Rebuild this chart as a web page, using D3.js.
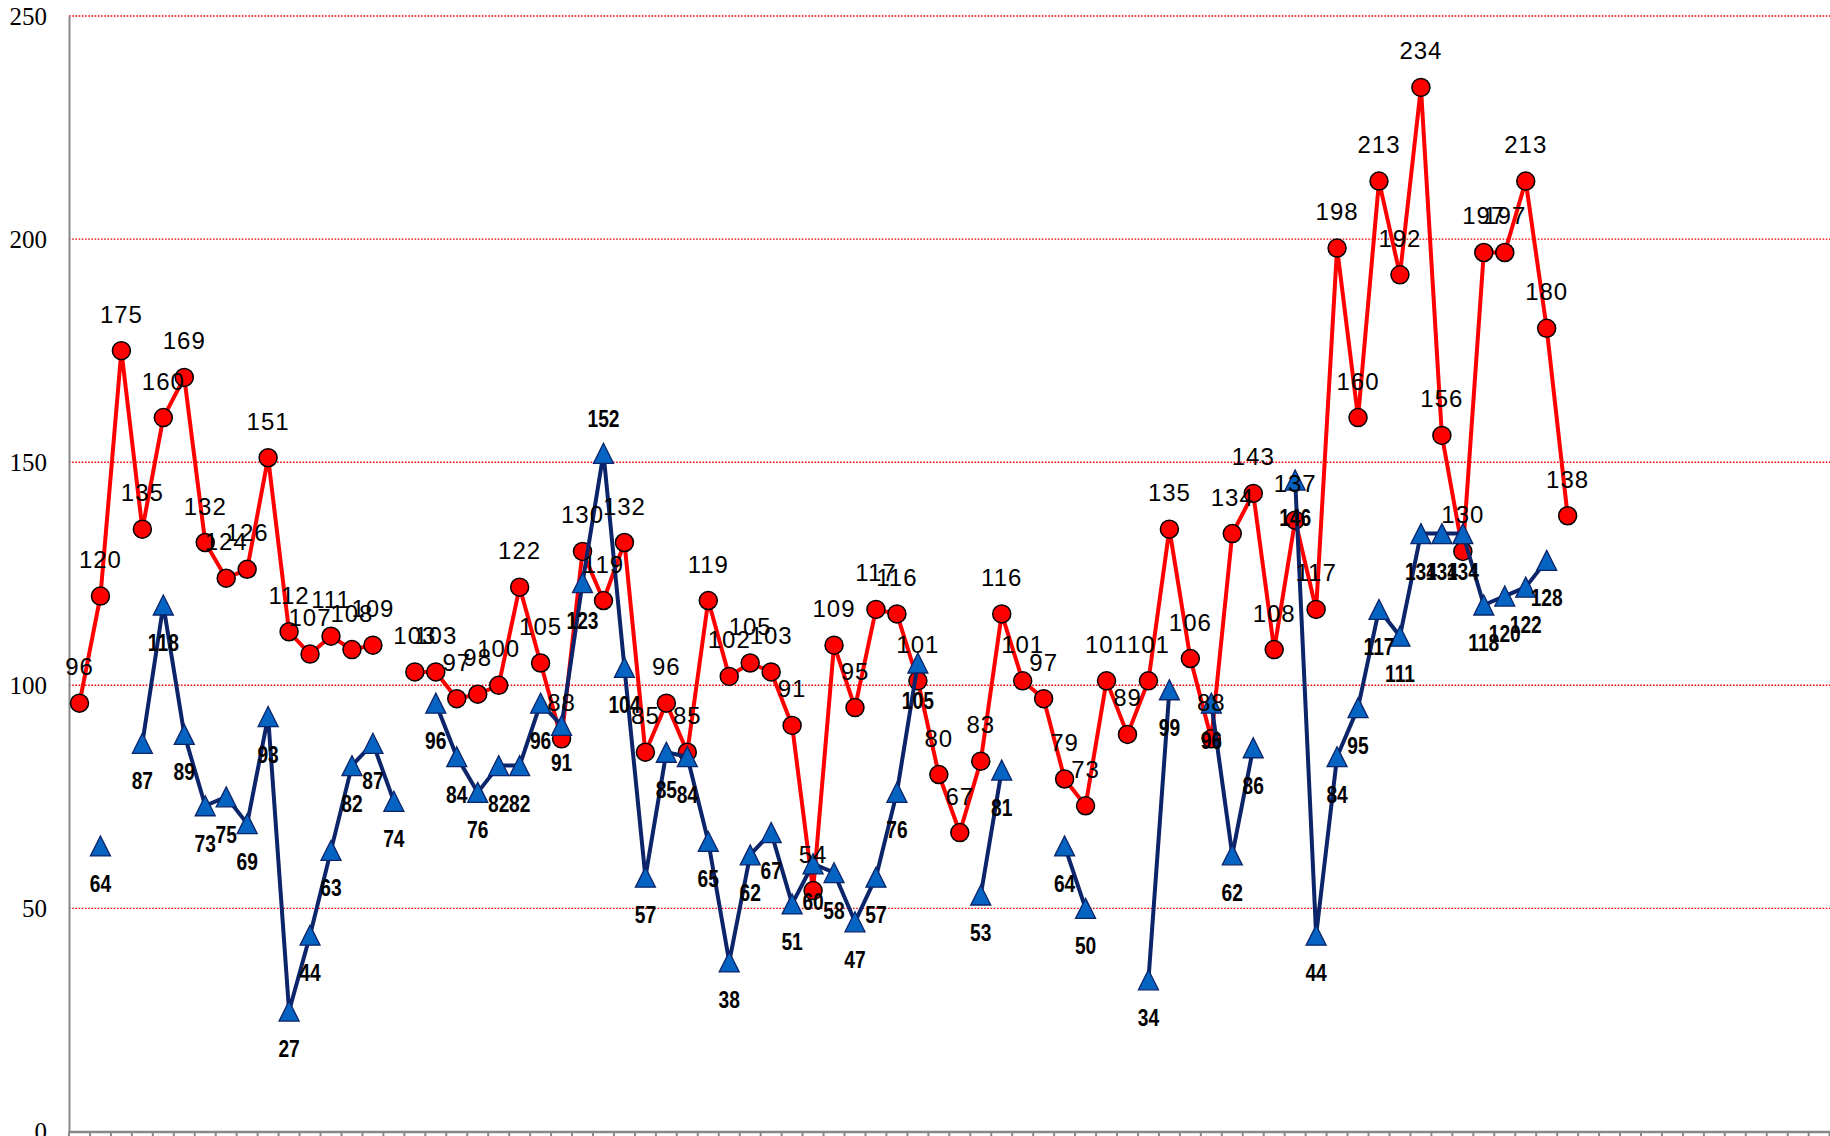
<!DOCTYPE html>
<html>
<head>
<meta charset="utf-8">
<script src="https://cdn.jsdelivr.net/npm/d3@7"></script>
<style>
  body { margin: 0; background: #fff; }
</style>
</head>
<body>
<div id="chart"></div>
<script>
var svgWidth = 1830;
var svgHeight = 1136;

var margin = { top: 16, right: 0, bottom: 4.5, left: 69 };

var categoryCount = 86;
var categories = d3.range(1, categoryCount + 1);

var yTicks = [0, 50, 100, 150, 200, 250];

// red series (circles)
var redValues = [
  96, 120, 175, 135, 160, 169, 132, 124, 126, 151,
  112, 107, 111, 108, 109, null, 103, 103, 97, 98,
  100, 122, 105, 88, 130, 119, 132, 85, 96, 85,
  119, 102, 105, 103, 91, 54, 109, 95, 117, 116,
  101, 80, 67, 83, 116, 101, 97, 79, 73, 101,
  89, 101, 135, 106, 88, 134, 143, 108, 137, 117,
  198, 160, 213, 192, 234, 156, 130, 197, 197, 213,
  180, 138
];

// blue series (triangles)
var blueValues = [
  null, 64, null, 87, 118, 89, 73, 75, 69, 93,
  27, 44, 63, 82, 87, 74, null, 96, 84, 76,
  82, 82, 96, 91, 123, 152, 104, 57, 85, 84,
  65, 38, 62, 67, 51, 60, 58, 47, 57, 76,
  105, null, null, 53, 81, null, null, 64, 50, null,
  null, 34, 99, null, 96, 62, 86, null, 146, 44,
  84, 95, 117, 111, 134, 134, 134, 118, 120, 122,
  128, null
];

// blue labels that sit above their marker instead of below
var blueLabelsAbove = [25];

var step = 20.96;
var chartHeight = svgHeight - margin.top - margin.bottom;

var svg = d3.select("#chart")
  .append("svg")
  .attr("width", svgWidth)
  .attr("height", svgHeight);

var chartGroup = svg.append("g")
  .attr("transform", `translate(${margin.left}, ${margin.top})`);

var xScale = d3.scaleBand()
  .domain(categories)
  .range([0, step * categoryCount])
  .padding(0);

var yScale = d3.scaleLinear()
  .domain([0, 250])
  .range([chartHeight, 0]);

var xOf = (d, i) => xScale(categories[i]) + xScale.bandwidth() / 2;

var redPoints = redValues.map((v, i) => ({ v: v, i: i })).filter(d => d.v != null);
var bluePoints = blueValues.map((v, i) => ({ v: v, i: i })).filter(d => d.v != null);

// gridlines
chartGroup.selectAll(".grid")
  .data(yTicks.filter(d => d > 0))
  .enter()
  .append("line")
  .attr("x1", 0)
  .attr("x2", svgWidth)
  .attr("y1", d => yScale(d))
  .attr("y2", d => yScale(d))
  .attr("stroke", "#ff0000")
  .attr("stroke-width", 1.4)
  .attr("stroke-dasharray", "1.6,1.6");

// y axis
var leftAxis = d3.axisLeft(yScale).tickValues(yTicks).tickSize(0).tickPadding(22);
var yAxisG = chartGroup.append("g").call(leftAxis);
yAxisG.select(".domain").attr("stroke", "#888").attr("stroke-width", 2);
yAxisG.selectAll("text")
  .style("font-family", "'Liberation Serif', 'DejaVu Serif', serif")
  .style("font-size", "25px")
  .style("fill", "#000");

// x axis, ticks sit between categories
var bottomAxis = d3.axisBottom(xScale).tickFormat("").tickSize(10).tickSizeOuter(0);
var xAxisG = chartGroup.append("g")
  .attr("transform", `translate(0, ${chartHeight})`)
  .call(bottomAxis);
xAxisG.selectAll(".tick").attr("transform", d => `translate(${xScale(d)},0)`);
xAxisG.selectAll(".tick line").attr("stroke", "#888").attr("stroke-width", 2);
xAxisG.select(".domain").attr("stroke", "#888").attr("stroke-width", 2.5);

var seriesLine = d3.line()
  .defined(d => d != null)
  .x(xOf)
  .y(d => yScale(d));

// red series
chartGroup.append("path")
  .datum(redValues)
  .attr("d", seriesLine)
  .attr("fill", "none")
  .attr("stroke", "#ff0000")
  .attr("stroke-width", 4)
  .attr("stroke-linejoin", "round");

chartGroup.selectAll(".redDot")
  .data(redPoints)
  .enter()
  .append("circle")
  .attr("cx", d => xOf(d.v, d.i))
  .attr("cy", d => yScale(d.v))
  .attr("r", 9)
  .attr("fill", "#ff0000")
  .attr("stroke", "#000")
  .attr("stroke-width", 1.5);

// blue series
chartGroup.append("path")
  .datum(blueValues)
  .attr("d", seriesLine)
  .attr("fill", "none")
  .attr("stroke", "#0b246a")
  .attr("stroke-width", 4)
  .attr("stroke-linejoin", "round");

chartGroup.selectAll(".blueTri")
  .data(bluePoints)
  .enter()
  .append("path")
  .attr("transform", d => `translate(${xOf(d.v, d.i)}, ${yScale(d.v)})`)
  .attr("d", "M0,-10L10,10L-10,10Z")
  .attr("fill", "#0563c1")
  .attr("stroke", "#0b246a")
  .attr("stroke-width", 1.3);

// labels
chartGroup.selectAll(".redLabel")
  .data(redPoints)
  .enter()
  .append("text")
  .attr("text-anchor", "middle")
  .attr("x", d => xOf(d.v, d.i))
  .attr("y", d => yScale(d.v) - 28)
  .style("font-family", "'Liberation Sans', Arial, sans-serif")
  .style("font-size", "24px")
  .style("letter-spacing", "1px")
  .style("fill", "#000")
  .text(d => d.v);

// bold, squeezed sideways to look condensed
chartGroup.selectAll(".blueLabel")
  .data(bluePoints)
  .enter()
  .append("text")
  .attr("text-anchor", "middle")
  .attr("transform", function(d) {
    var y = blueLabelsAbove.includes(d.i) ? yScale(d.v) - 26 : yScale(d.v) + 46;
    return `translate(${xOf(d.v, d.i)}, ${y}) scale(0.8, 1.02)`;
  })
  .style("font-family", "'Liberation Sans', Arial, sans-serif")
  .style("font-weight", "bold")
  .style("font-size", "24px")
  .style("fill", "#000")
  .text(d => d.v);
</script>
</body>
</html>
